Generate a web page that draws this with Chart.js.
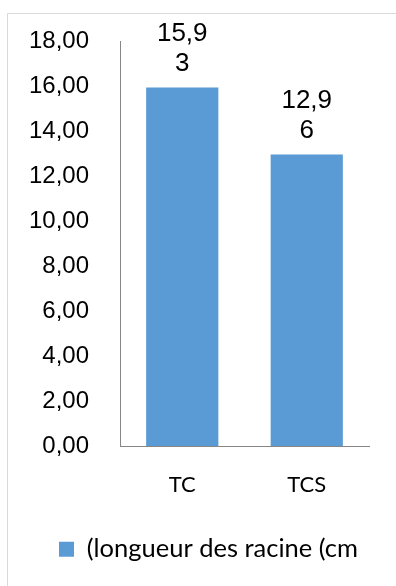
<!DOCTYPE html>
<html>
<head>
<meta charset="utf-8">
<style>
  html, body { margin: 0; padding: 0; background: #fff; }
  #wrap { position: relative; width: 396px; height: 586px; }
</style>
<script src="https://cdn.jsdelivr.net/npm/chart.js@4/dist/chart.umd.min.js"></script>
</head>
<body>
<div id="wrap"><canvas id="c" width="396" height="586"></canvas></div>
<script>
// Root length per treatment
const categories = ['TC', 'TCS'];
const rootLength = [15.93, 12.96];
const seriesName = '(longueur des racine (cm';
const yTicks = [0, 2, 4, 6, 8, 10, 12, 14, 16, 18];

const BAR_BLUE = '#5b9bd5';
const LEGEND_SHIFT = 14;
const fmt = v => v.toFixed(2).replace('.', ',');

// Light frame around the chart
const framePlugin = {
  id: 'frame',
  beforeDraw(chart) {
    const ctx = chart.ctx;
    ctx.save();
    ctx.fillStyle = '#fff';
    ctx.fillRect(0, 0, chart.width, chart.height);
    ctx.strokeStyle = '#d9d9d9';
    ctx.lineWidth = 1;
    ctx.beginPath();
    ctx.moveTo(7.5, chart.height);
    ctx.lineTo(7.5, 13.5);
    ctx.lineTo(chart.width, 13.5);
    ctx.stroke();
    ctx.restore();
  }
};

// Nudge the legend row to the right of the centred position
const legendNudge = {
  id: 'legendNudge',
  afterLayout(chart) {
    if (chart.legend) {
      chart.legend.left += LEGEND_SHIFT;
      chart.legend.right += LEGEND_SHIFT;
    }
  }
};

// Value labels above bars, wrapped after four characters
const valueLabels = {
  id: 'valueLabels',
  afterDatasetsDraw(chart) {
    const ctx = chart.ctx;
    const meta = chart.getDatasetMeta(0);
    ctx.save();
    ctx.fillStyle = '#000';
    ctx.font = '26px "Liberation Sans", Arial, sans-serif';
    ctx.textAlign = 'center';
    ctx.textBaseline = 'middle';
    meta.data.forEach((bar, i) => {
      const txt = fmt(chart.data.datasets[0].data[i]);
      const lines = [txt.slice(0, 4), txt.slice(4)];
      ctx.fillText(lines[0], bar.x, bar.y - 54);
      ctx.fillText(lines[1], bar.x, bar.y - 24);
    });
    ctx.restore();
  }
};

new Chart(document.getElementById('c'), {
  type: 'bar',
  data: {
    labels: categories,
    datasets: [{
      label: seriesName,
      data: rootLength,
      backgroundColor: BAR_BLUE,
      borderWidth: 0,
      barPercentage: 1,
      categoryPercentage: 0.58
    }]
  },
  options: {
    responsive: false,
    animation: false,
    devicePixelRatio: 1,
    layout: { padding: { left: 20, right: 27, top: 41, bottom: 14 } },
    plugins: {
      tooltip: { enabled: false },
      legend: {
        display: true,
        position: 'bottom',
        labels: {
          color: '#000',
          font: { family: 'Lato, "Open Sans", sans-serif', size: 25.5 },
          boxWidth: 15,
          boxHeight: 15,
          padding: 20
        }
      }
    },
    scales: {
      x: {
        grid: { display: false },
        border: { display: true, color: '#868686' },
        ticks: {
          color: '#000',
          padding: 18,
          font: { family: 'Lato, "Open Sans", sans-serif', size: 22 }
        }
      },
      y: {
        min: 0,
        max: 18,
        afterBuildTicks(axis) { axis.ticks = yTicks.map(v => ({ value: v })); },
        afterFit(axis) { axis.width = 100; },
        grid: { display: false },
        border: { display: true, color: '#868686' },
        ticks: {
          color: '#000',
          padding: 23,
          font: { family: '"Liberation Sans", Arial, sans-serif', size: 24 },
          callback: v => fmt(v)
        }
      }
    }
  },
  plugins: [framePlugin, legendNudge, valueLabels]
});
</script>
</body>
</html>
